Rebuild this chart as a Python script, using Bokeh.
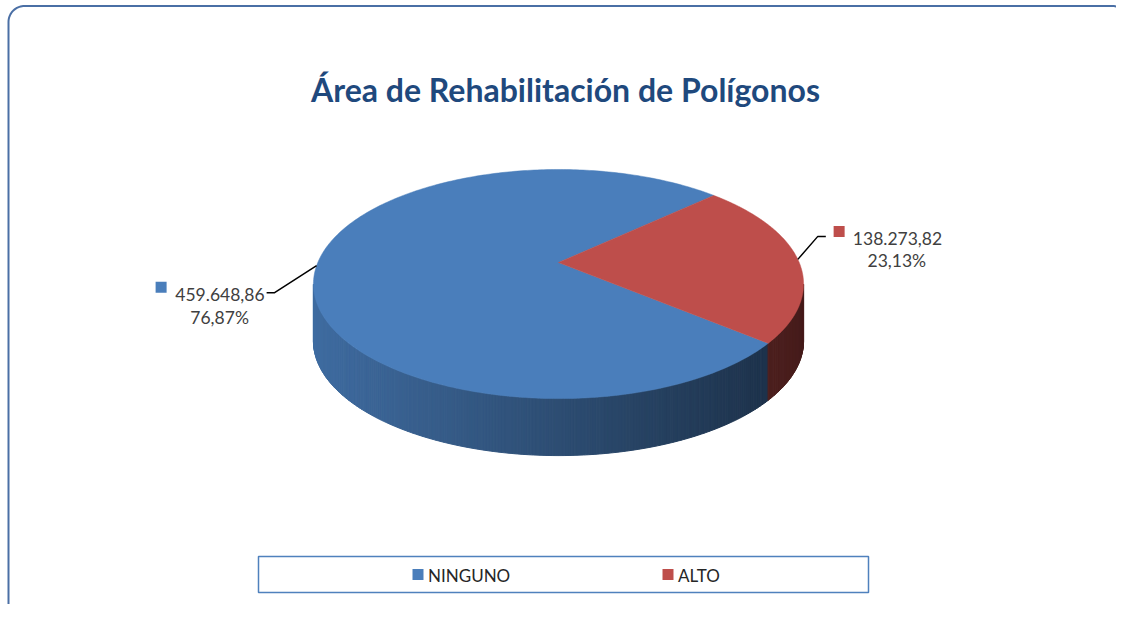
import numpy as np
from bokeh.plotting import figure
from bokeh.models import Range1d
from bokeh.core.properties import value
from bokeh.embed import file_html
from bokeh.resources import INLINE

# ---------------- data ----------------
title_text = "Área de Rehabilitación de Polígonos"
categories = ["NINGUNO", "ALTO"]
areas = [459648.86, 138273.82]
value_labels = ["459.648,86", "138.273,82"]
pct_labels = ["76,87%", "23,13%"]

# ---------------- style ----------------
top_colors = [(74, 126, 187), (190, 78, 75)]
text_color = "#404040"
FONT = "Lato"

W, H = 1116, 604
p = figure(width=W, height=H, output_backend="svg", toolbar_location=None,
           x_range=Range1d(0, W), y_range=Range1d(H, 0),
           min_border=0, outline_line_color=None, background_fill_color="white")
p.axis.visible = False
p.grid.visible = False

# ---------------- 3D pie projection ----------------
CX, CY = 558.0, 262.0
A, B, K = 240.7, 110.5, 0.188
THICK = 57.0


def proj(theta, drop=0.0):
    X = np.cos(theta)
    Z = np.sin(theta)
    s = 1 + K * Z
    return CX + A * X / s, CY - B * Z / s + drop


vals = np.array(areas, dtype=float)
fracs = vals / vals.sum()
start_deg = -40.0  # first slice starts here, slices run clockwise
cum = np.concatenate([[0], np.cumsum(fracs)])
a_start = np.radians(start_deg - 360 * cum[:-1])
a_end = np.radians(start_deg - 360 * cum[1:])


def rgb(c):
    return "#%02x%02x%02x" % tuple(int(max(0, min(255, v))) for v in c)


# side strips (visible front part of the cylinder)
th_left = np.radians(-180 + np.degrees(np.arcsin(K)))
th_right = np.radians(-np.degrees(np.arcsin(K)))
n = 260
ths = np.linspace(th_left, th_right, n + 1)
xl, _ = proj(th_left)
xr, _ = proj(th_right)
sxs, sys_, scol = [], [], []
for i in range(n):
    t0, t1 = ths[i], ths[i + 1]
    tm = 0.5 * (t0 + t1)
    off = (start_deg - np.degrees(tm)) % 360 / 360.0
    idx = int(np.searchsorted(cum[1:], off, side="right"))
    idx = min(idx, len(vals) - 1)
    x0, y0 = proj(t0)
    x1, y1 = proj(t1)
    xm, _ = proj(tm)
    t = (xm - xl) / (xr - xl)
    f = 0.86 - 0.49 * t
    c = [v * f for v in top_colors[idx]]
    sxs.append([x0, x1, x1, x0])
    sys_.append([y0, y1, y1 + THICK, y0 + THICK])
    scol.append(rgb(c))
p.patches(sxs, sys_, fill_color=scol, line_color=scol, line_width=1)

# top faces
for i in range(len(vals)):
    th = np.linspace(a_start[i], a_end[i], 300)
    x, y = proj(th)
    xs = np.concatenate([[CX], x])
    ys = np.concatenate([[CY], y])
    p.patch(xs, ys, fill_color=rgb(top_colors[i]), line_color=rgb(top_colors[i]), line_width=0.5)

# data labels with leader lines
for i in range(len(vals)):
    mid = 0.5 * (a_start[i] + a_end[i])
    sx, sy = proj(mid)
    if np.cos(mid) < 0:
        ex, ey = sx - 42, sy + 27
        fx, fy = ex - 8, ey
        p.line([sx, ex, fx], [sy, ey, fy], line_color="black", line_width=1.5)
        p.scatter([fx - 105.5], [fy - 5.5], marker="square", size=11,
                  fill_color=rgb(top_colors[i]), line_color=None)
        p.text([fx - 2], [fy + 1.5], text=[value_labels[i]], text_align="right",
               text_baseline="alphabetic", text_font=value(FONT), text_font_size="17.5px",
               text_color=text_color)
        p.text([fx - 47], [fy + 24.5], text=[pct_labels[i]], text_align="center",
               text_baseline="alphabetic", text_font=value(FONT), text_font_size="17.5px",
               text_color=text_color)
    else:
        ex, ey = sx + 20, sy - 23
        fx, fy = ex + 8, ey
        p.line([sx, ex, fx], [sy, ey, fy], line_color="black", line_width=1.5)
        p.scatter([fx + 13.3], [fy - 5], marker="square", size=11,
                  fill_color=rgb(top_colors[i]), line_color=None)
        p.text([fx + 27], [fy + 2], text=[value_labels[i]], text_align="left",
               text_baseline="alphabetic", text_font=value(FONT), text_font_size="17.5px",
               text_color=text_color)
        p.text([fx + 71], [fy + 24.5], text=[pct_labels[i]], text_align="center",
               text_baseline="alphabetic", text_font=value(FONT), text_font_size="17.5px",
               text_color=text_color)

# title
p.text([565], [89], text=[title_text], text_align="center", text_baseline="alphabetic",
       text_font=value(FONT), text_font_style="bold", text_font_size="32px",
       text_color="#1F497D")

# legend
LB_L, LB_R, LB_T, LB_B = 258, 868, 556, 592
p.quad(left=[LB_L], right=[LB_R], top=[LB_T], bottom=[LB_B], fill_color=None,
       line_color="#4F81BD", line_width=1.5)
for i, cat in enumerate(categories):
    mx = LB_L + 159.5 + 250 * i
    my = (LB_T + LB_B) / 2
    p.scatter([mx], [my], marker="square", size=11, fill_color=rgb(top_colors[i]), line_color=None)
    p.text([mx + 10], [my + 1], text=[cat], text_align="left", text_baseline="middle",
           text_font=value(FONT), text_font_size="17px", text_color="#262626")

# rounded chart-area border
r = 16
bl, bt, br, bb = 8, 5.5, 1128, 621
angs1 = np.linspace(np.pi, 1.5 * np.pi, 20)
angs2 = np.linspace(1.5 * np.pi, 2 * np.pi, 20)
angs3 = np.linspace(0, 0.5 * np.pi, 20)
angs4 = np.linspace(0.5 * np.pi, np.pi, 20)
bx = np.concatenate([bl + r + r * np.cos(angs1), br - r + r * np.cos(angs2),
                     br - r + r * np.cos(angs3), bl + r + r * np.cos(angs4), [bl]])
by = np.concatenate([bt + r + r * np.sin(angs1), bt + r + r * np.sin(angs2),
                     bb - r + r * np.sin(angs3), bb - r + r * np.sin(angs4), [bt + r]])
p.line(bx, by, line_color="#4A6FA5", line_width=2)

open("out.html", "w").write(file_html(p, INLINE))
